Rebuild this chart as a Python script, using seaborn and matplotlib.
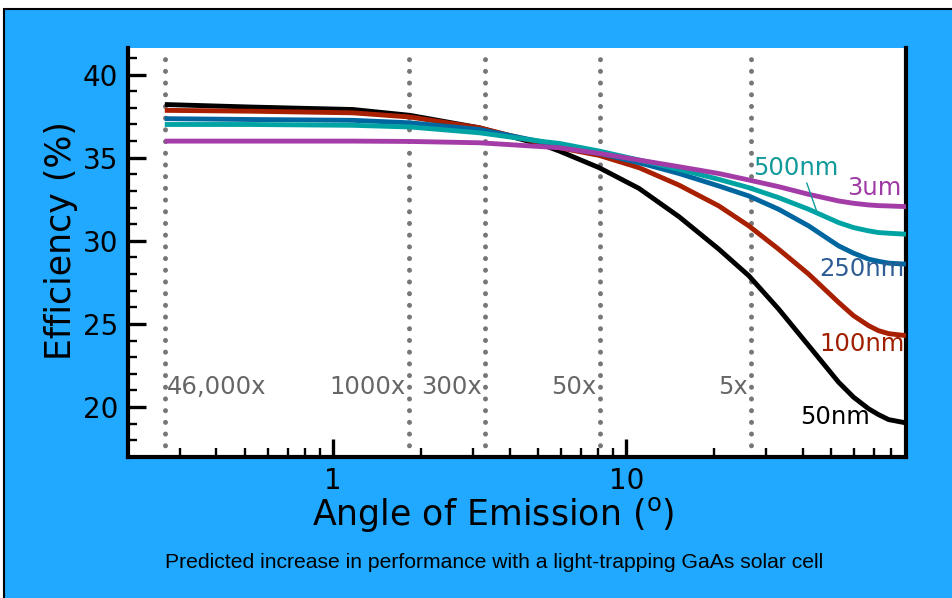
import numpy as np
import pandas as pd
import matplotlib
matplotlib.use('Agg')
import matplotlib.pyplot as plt
import matplotlib.ticker as mticker
from matplotlib.patches import Rectangle
import seaborn as sns

# angle of emission (degrees) and efficiency (%)
angle = [0.267, 0.522, 1.17, 1.83, 3.16, 5.33, 5.92, 8.09, 11.07, 15.15, 20.7,
         26.2, 33.1, 41.9, 53.0, 59.6, 67.1, 72.5, 78.5, 90.0]
eff_50nm = [38.2, 38.05, 37.9, 37.55, 36.8, 35.7, 35.4, 34.4, 33.15, 31.45, 29.5,
            27.9, 25.9, 23.7, 21.5, 20.6, 19.9, 19.55, 19.25, 19.05]
eff_100nm = [37.85, 37.8, 37.7, 37.45, 36.8, 35.8, 35.6, 35.14, 34.4, 33.35, 32.1,
             30.9, 29.5, 28.0, 26.3, 25.5, 24.9, 24.6, 24.42, 24.3]
eff_250nm = [37.35, 37.3, 37.25, 37.1, 36.7, 35.9, 35.66, 35.26, 34.7, 34.05, 33.3,
             32.7, 31.9, 30.9, 29.7, 29.26, 28.9, 28.77, 28.66, 28.6]
eff_500nm = [37.0, 37.0, 36.95, 36.85, 36.5, 35.95, 35.86, 35.4, 34.86, 34.3, 33.7,
             33.2, 32.6, 31.9, 31.1, 30.8, 30.6, 30.5, 30.46, 30.4]
eff_3um = [36.0, 36.0, 36.0, 35.98, 35.9, 35.65, 35.6, 35.26, 34.86, 34.46, 34.05,
           33.66, 33.26, 32.8, 32.4, 32.26, 32.16, 32.12, 32.1, 32.06]

thickness = ['50nm', '100nm', '250nm', '500nm', '3um']
line_colors = ['#000000', '#a82000', '#0066a0', '#00a3a3', '#a43ca8']
label_colors = ['#000000', '#a01e00', '#2e5c94', '#12999a', '#a03aa5']

# concentration factors and their acceptance angles
conc_labels = ['46,000x', '1000x', '300x', '50x', '5x']
conc_angles = [0.267, 1.81, 3.31, 8.13, 26.57]

df = pd.DataFrame({
    'angle': angle * 5,
    'eff': eff_50nm + eff_100nm + eff_250nm + eff_500nm + eff_3um,
    'thickness': sum([[t] * len(angle) for t in thickness], []),
})

sns.set_style('white')
plt.rcParams['font.family'] = ['DejaVu Sans']
for key in ['text.color', 'axes.labelcolor', 'xtick.color', 'ytick.color']:
    plt.rcParams[key] = 'black'

fig = plt.figure(figsize=(9.53, 5.98), dpi=100)
fig.patch.set_facecolor('white')
fig.add_artist(Rectangle((4 / 953, -0.02), 1.0, 1 - 9 / 598 + 0.02, transform=fig.transFigure,
                         facecolor='#21a8ff', edgecolor='black', lw=1.5, zorder=0))

ax = fig.add_axes([128 / 953, 1 - 457 / 598, 778 / 953, 409 / 598])
ax.set_facecolor('white')

for a in conc_angles:
    ax.axvline(a, color='#777777', lw=3.6, linestyle=(0, (0.01, 2.33)),
               dash_capstyle='round', zorder=1)

sns.lineplot(data=df, x='angle', y='eff', hue='thickness', hue_order=thickness,
             palette=line_colors, lw=3.5, legend=False, ax=ax, zorder=3,
             solid_joinstyle='round', solid_capstyle='butt')

ax.set_xscale('log')
ax.set_xlim(0.2, 90)
ax.set_ylim(17, 41.6)

ax.xaxis.set_major_locator(mticker.FixedLocator([1, 10]))
ax.xaxis.set_major_formatter(mticker.FixedFormatter(['1', '10']))
ax.xaxis.set_minor_locator(mticker.LogLocator(base=10, subs=np.arange(2, 10)))
ax.xaxis.set_minor_formatter(mticker.NullFormatter())
ax.yaxis.set_major_locator(mticker.MultipleLocator(5))
ax.yaxis.set_minor_locator(mticker.MultipleLocator(1))

ax.tick_params(which='major', direction='in', length=13, width=2.4, labelsize=20,
               pad=7, left=True, bottom=True, right=False, top=False)
ax.tick_params(which='minor', direction='in', length=6.5, width=1.7,
               left=True, bottom=True, right=False, top=False)

for side in ['left', 'bottom', 'right']:
    ax.spines[side].set_linewidth(3)
    ax.spines[side].set_color('black')
ax.spines['top'].set_visible(False)

ax.set_xlabel('Angle of Emission ($^\\mathregular{o}$)', fontsize=25)
ax.set_ylabel('Efficiency (%)', fontsize=25)
ax.xaxis.set_label_coords(0.47, -0.092)
ax.yaxis.set_label_coords(-0.064, 0.53)

# concentration labels
for lab, a in zip(conc_labels, conc_angles):
    if lab == '46,000x':
        ax.text(a * 1.02, 21.2, lab, ha='left', va='center', fontsize=17.5, color='#666666')
    else:
        ax.text(a * 0.975, 21.2, lab, ha='right', va='center', fontsize=17.5, color='#666666')

# series labels
ax.text(68, 19.4, '50nm', ha='right', va='center', fontsize=17.5, color=label_colors[0])
ax.text(89, 23.8, '100nm', ha='right', va='center', fontsize=17.5, color=label_colors[1])
ax.text(89, 28.3, '250nm', ha='right', va='center', fontsize=17.5, color=label_colors[2])
ax.annotate('500nm', xy=(44.6, 31.8), xytext=(27.2, 34.4), ha='left', va='center',
            fontsize=17.5, color=label_colors[3],
            arrowprops=dict(arrowstyle='-', color=label_colors[3], lw=1, relpos=(0.6, 0.1),
                            shrinkA=0, shrinkB=0))
ax.text(87, 33.2, '3um', ha='right', va='center', fontsize=17.5, color=label_colors[4])

fig.text(494 / 953, 1 - 563 / 598, 'Predicted increase in performance with a light-trapping GaAs solar cell',
         ha='center', va='center', fontsize=15.2, family=['Liberation Sans'], color='black')

fig.savefig('out.png', dpi=100)
